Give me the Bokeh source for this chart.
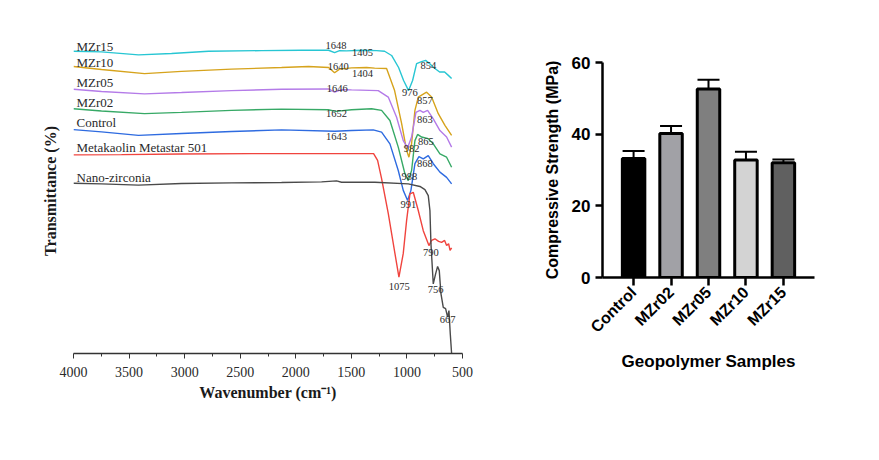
from bokeh.plotting import figure
from bokeh.layouts import row, column
from bokeh.models import Range1d, FixedTicker, FactorRange, ColumnDataSource, Whisker, TeeHead
from bokeh.core.properties import value
from bokeh.embed import file_html
from bokeh.resources import INLINE
import math

# ---------------- FTIR data (wavenumber cm-1, transmittance offset %) ----------------
mzr15_wn = [4000, 3748, 3415, 3118, 2785, 2308, 1948, 1705, 1651, 1606, 1543, 1408, 1273, 1201, 1138,
            1075, 1030, 985, 949, 913, 868, 832, 796, 760, 706, 661, 625, 598]
mzr15_t = [93.0, 92.8, 91.9, 92.3, 93.0, 93.2, 93.3, 93.3, 92.6, 93.2, 93.1, 93.3, 93.2, 93.0, 91.7,
           88.0, 84.0, 80.9, 84.0, 89.2, 89.8, 90.2, 89.2, 88.0, 86.6, 86.6, 85.5, 84.6]

mzr10_wn = [4000, 3748, 3361, 3028, 2578, 2128, 1885, 1705, 1651, 1606, 1498, 1363, 1291, 1183, 1111,
            1048, 1003, 982, 958, 928, 898, 823, 778, 718, 658, 598]
mzr10_t = [88.3, 87.4, 86.1, 86.8, 87.5, 88.0, 88.3, 88.0, 86.4, 87.5, 87.9, 88.0, 87.8, 87.7, 80.9,
           70.8, 62.5, 60.4, 64.6, 74.8, 78.9, 80.4, 78.9, 73.8, 70.2, 67.1]

mzr05_wn = [4000, 3748, 3361, 3028, 2578, 2128, 1705, 1651, 1588, 1498, 1258, 1168, 1093, 1033, 994,
            958, 919, 883, 853, 814, 763, 703, 643, 598]
mzr05_t = [81.3, 80.6, 79.9, 80.3, 80.9, 81.3, 81.4, 80.4, 81.2, 81.1, 80.9, 78.9, 72.7, 65.5, 63.3,
           66.6, 74.2, 74.8, 74.2, 74.8, 72.2, 68.6, 66.6, 63.5]

mzr02_wn = [4000, 3748, 3361, 3028, 2578, 2128, 1708, 1639, 1498, 1318, 1228, 1153, 1078, 1018, 988,
            958, 928, 904, 868, 808, 763, 703, 643, 598]
mzr02_t = [75.3, 74.6, 73.8, 74.2, 74.8, 75.2, 75.0, 74.5, 75.0, 75.3, 74.8, 71.7, 63.5, 55.3, 53.2,
           56.3, 65.5, 67.4, 66.6, 66.1, 64.5, 61.4, 60.4, 57.3]

control_wn = [4000, 3748, 3415, 3028, 2578, 2128, 1648, 1498, 1303, 1228, 1153, 1078, 1033, 994, 964,
              928, 892, 853, 808, 763, 703, 643, 598]
control_t = [68.9, 68.2, 67.1, 67.7, 68.3, 68.8, 68.4, 68.6, 68.8, 68.1, 64.5, 56.3, 50.2, 47.1, 50.2,
             58.4, 60.6, 59.9, 60.9, 58.4, 55.8, 54.2, 52.2]

mk_wn = [4000, 3568, 3028, 2398, 1768, 1300, 1264, 1228, 1168, 1108, 1072, 1033, 1003, 973, 943,
         898, 853, 802, 778, 748, 715, 688, 661, 643, 625, 612, 598]
mk_t = [61.1, 61.2, 61.4, 61.5, 61.5, 61.5, 59.4, 53.8, 43.1, 30.8, 23.5, 30.8, 40.9, 49.1, 49.6,
        44.0, 37.8, 33.2, 34.8, 35.3, 34.5, 34.2, 34.8, 33.2, 33.8, 31.7, 32.5]

zr_wn = [4000, 3748, 3415, 3028, 2578, 2128, 1768, 1633, 1588, 1288, 988, 883, 838, 808, 793, 784,
         763, 742, 724, 709, 694, 673, 652, 634, 622, 610, 598]
zr_t = [52.4, 52.2, 51.8, 52.3, 52.5, 52.6, 52.8, 53.1, 52.7, 52.7, 52.2, 51.4, 50.4, 48.6, 44.0, 33.8,
        21.4, 24.5, 26.8, 25.5, 18.4, 14.2, 13.8, 11.2, 13.2, 6.1, 0.0]

series_names = ["MZr15", "MZr10", "MZr05", "MZr02", "Control", "Metakaolin Metastar 501", "Nano-zirconia"]
series_colors = ["#27c6d3", "#d6a31c", "#b47be8", "#37a966", "#2e6be0", "#f0443e", "#4a4a4a"]
series_wn = [mzr15_wn, mzr10_wn, mzr05_wn, mzr02_wn, control_wn, mk_wn, zr_wn]
series_t = [mzr15_t, mzr10_t, mzr05_t, mzr02_t, control_t, mk_t, zr_t]

# name label anchors (wavenumber, transmittance)
name_x = [3973] * 7
name_y = [94.6, 89.6, 83.5, 77.1, 71.0, 63.3, 54.2]

# peak annotations
peak_text = ["1648", "1405", "1640", "1404", "1646", "1652", "1643", "976", "854", "857", "863", "982",
             "865", "868", "988", "991", "1075", "790", "756", "667"]
peak_x = [1639, 1399, 1618, 1399, 1627, 1633, 1633, 973, 808, 838, 838, 958, 829, 838, 979, 988,
          1069, 784, 742, 634]
peak_y = [94.8, 92.7, 88.3, 86.1, 81.4, 73.9, 66.8, 80.4, 88.6, 77.8, 71.9, 63.0, 65.2, 58.6, 54.5,
          45.8, 20.6, 31.2, 19.6, 10.4]

x_ticks = [4000, 3500, 3000, 2500, 2000, 1500, 1000, 500]
x_minor = [3750, 3250, 2750, 2250, 1750, 1250, 750]

# ---------------- compressive strength data ----------------
samples = ["Control", "MZr02", "MZr05", "MZr10", "MZr15"]
strength = [33.2, 40.2, 52.6, 32.8, 32.0]
strength_err = [2.1, 2.1, 2.6, 2.3, 0.9]
bar_colors = ["#000000", "#a1a1a6", "#7f7f7f", "#d3d3d3", "#606060"]
y_ticks = [0, 20, 40, 60]

SERIF = "Liberation Serif"
SANS = "Liberation Sans"

# ---------------- left: FTIR ----------------
p1 = figure(width=529, height=428, output_backend="svg", toolbar_location=None,
            x_range=Range1d(4000, 500), y_range=Range1d(0, 100),
            min_border_left=73, min_border_right=67, min_border_top=28, min_border_bottom=75)
p1.outline_line_color = None
p1.xgrid.visible = False
p1.ygrid.visible = False

for wn, t, c in zip(series_wn, series_t, series_colors):
    p1.line(wn, t, line_color=c, line_width=1.4)

p1.text(x=name_x, y=name_y, text=series_names, text_font=value(SERIF), text_font_size="13px",
        text_color="#2a2a2a", text_align="left", text_baseline="middle")
p1.text(x=peak_x, y=peak_y, text=peak_text, text_font=value(SERIF), text_font_size="10.5px",
        text_color="#2a2a2a", text_align="center", text_baseline="middle")

xa = p1.xaxis[0]
xa.ticker = FixedTicker(ticks=x_ticks, minor_ticks=x_minor)
xa.axis_line_color = "#333333"
xa.axis_line_width = 1.3
xa.major_tick_line_color = "#333333"
xa.minor_tick_line_color = "#333333"
xa.major_tick_out = 5
xa.major_tick_in = 0
xa.minor_tick_out = 3
xa.minor_tick_in = 0
xa.major_label_text_font = SERIF
xa.major_label_text_font_size = "14px"
xa.major_label_text_color = "#2a2a2a"
xa.major_label_standoff = 8
xa.axis_label = "Wavenumber (cm\u207b\u00b9)"
xa.axis_label_text_font = SERIF
xa.axis_label_text_font_style = "bold"
xa.axis_label_text_font_size = "16px"
xa.axis_label_text_color = "#1a1a1a"
xa.axis_label_standoff = 4

ya = p1.yaxis[0]
ya.ticker = FixedTicker(ticks=[])
ya.axis_line_color = None
ya.major_tick_line_color = None
ya.minor_tick_line_color = None
ya.axis_label = "Transmittance (%)"
ya.axis_label_text_font = SERIF
ya.axis_label_text_font_style = "bold"
ya.axis_label_text_font_size = "16px"
ya.axis_label_text_color = "#1a1a1a"
ya.axis_label_standoff = 15

# ---------------- right: bar chart ----------------
p2 = figure(width=339, height=428, output_backend="svg", toolbar_location=None,
            x_range=FactorRange(*samples, range_padding=0.33, range_padding_units="absolute"),
            y_range=Range1d(0, 60),
            min_border_left=73, min_border_right=54, min_border_top=62, min_border_bottom=151)
p2.outline_line_color = None
p2.xgrid.visible = False
p2.ygrid.visible = False

src = ColumnDataSource(dict(x=samples, top=strength,
                            upper=[v + e for v, e in zip(strength, strength_err)],
                            color=bar_colors))
p2.vbar(x="x", top="top", width=0.6, source=src, fill_color="color", line_color="black", line_width=3)
wh = Whisker(base="x", upper="upper", lower="top", source=src, dimension="height",
             line_color="black", line_width=2,
             upper_head=TeeHead(size=22, line_color="black", line_width=2), lower_head=None)
p2.add_layout(wh)

bx = p2.xaxis[0]
bx.axis_line_color = "black"
bx.axis_line_width = 2.5
bx.major_tick_line_color = "black"
bx.major_tick_line_width = 2.5
bx.major_tick_out = 8
bx.major_tick_in = 0
bx.minor_tick_line_color = None
bx.major_label_orientation = math.pi / 4
bx.major_label_text_font = SANS
bx.major_label_text_font_style = "bold"
bx.major_label_text_font_size = "16px"
bx.major_label_text_color = "black"
bx.major_label_standoff = 4
bx.axis_label = "Geopolymer Samples"
bx.axis_label_text_font = SANS
bx.axis_label_text_font_style = "bold"
bx.axis_label_text_font_size = "17px"
bx.axis_label_text_color = "black"
bx.axis_label_standoff = 7

by = p2.yaxis[0]
by.ticker = FixedTicker(ticks=y_ticks)
by.axis_line_color = "black"
by.axis_line_width = 2.5
by.major_tick_line_color = "black"
by.major_tick_line_width = 2.5
by.major_tick_out = 7
by.major_tick_in = 0
by.minor_tick_line_color = None
by.major_label_text_font = SANS
by.major_label_text_font_style = "bold"
by.major_label_text_font_size = "17px"
by.major_label_text_color = "black"
by.major_label_standoff = 5
by.axis_label = "Compressive Strength (MPa)"
by.axis_label_text_font = SANS
by.axis_label_text_font_style = "bold"
by.axis_label_text_font_size = "16px"
by.axis_label_text_color = "black"
by.axis_label_standoff = 8

layout = row(column(p1), column(p2))
open("out.html", "w").write(file_html(layout, INLINE))
